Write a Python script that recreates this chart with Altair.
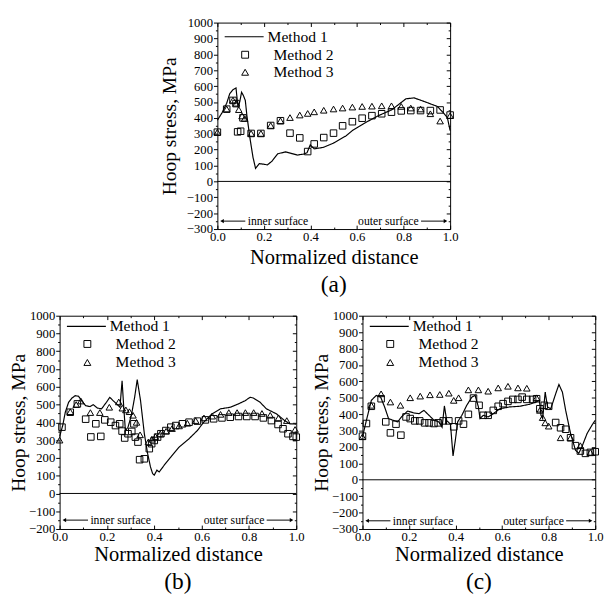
import altair as alt
import pandas as pd

FONT = "Liberation Serif"

# ---------------- Panel (a) ----------------
a_m1_x = [0.0, 0.02, 0.04, 0.053, 0.067, 0.08, 0.088, 0.096, 0.104, 0.112, 0.12, 0.127, 0.14, 0.153, 0.164,
          0.18, 0.2, 0.215, 0.235, 0.259, 0.294, 0.32, 0.343, 0.37, 0.385, 0.399, 0.416, 0.455, 0.497, 0.552,
          0.58, 0.636, 0.692, 0.748, 0.775, 0.81, 0.845, 0.887, 0.945, 0.971, 0.988, 1.0]
a_m1_y = [385, 432, 492, 552, 578, 588, 475, 500, 562, 540, 510, 412, 272, 152, 82,
          112, 108, 104, 128, 174, 186, 175, 166, 172, 180, 230, 205, 214, 240, 286,
          320, 370, 414, 450, 480, 520, 526, 504, 472, 432, 402, 320]
a_m2_x = [0.0, 0.04, 0.067, 0.08, 0.087, 0.10, 0.11, 0.145, 0.187, 0.229, 0.271, 0.312, 0.354, 0.388, 0.416,
          0.457, 0.499, 0.538, 0.58, 0.622, 0.664, 0.706, 0.748, 0.79, 0.831, 0.873, 0.915, 0.957, 1.0]
a_m2_y = [310, 455, 510, 490, 312, 316, 400, 302, 302, 352, 382, 304, 274, 188, 236,
          276, 304, 350, 376, 398, 414, 426, 436, 444, 446, 446, 446, 450, 418]
a_m3_x = [0.0, 0.04, 0.067, 0.081, 0.092, 0.106, 0.117, 0.145, 0.187, 0.229, 0.271, 0.312, 0.354, 0.388, 0.416,
          0.457, 0.499, 0.538, 0.58, 0.622, 0.664, 0.706, 0.748, 0.79, 0.831, 0.873, 0.915, 0.957, 1.0]
a_m3_y = [310, 456, 512, 492, 452, 412, 396, 302, 302, 352, 382, 402, 418, 428, 438,
          448, 456, 462, 468, 472, 474, 476, 476, 472, 462, 456, 426, 380, 414]

# ---------------- Panel (b) ----------------
b_m1_x = [0.0, 0.013, 0.024, 0.038, 0.052, 0.066, 0.08, 0.093, 0.11, 0.128, 0.142, 0.159, 0.177, 0.198, 0.212,
          0.226, 0.244, 0.255, 0.264, 0.271, 0.278, 0.289, 0.303, 0.317, 0.328, 0.342, 0.358, 0.372, 0.384, 0.393,
          0.4, 0.411, 0.421, 0.442, 0.47, 0.505, 0.547, 0.582, 0.609, 0.644, 0.679, 0.721, 0.756, 0.784, 0.805,
          0.819, 0.847, 0.874, 0.916, 0.951, 0.972, 1.0]
b_m1_y = [320, 382, 457, 513, 537, 550, 547, 522, 494, 489, 500, 481, 476, 513, 541,
          522, 500, 485, 634, 485, 354, 373, 438, 541, 640, 522, 336, 224, 149, 112,
          103, 131, 121, 159, 205, 261, 308, 354, 401, 448, 476, 485, 504, 522, 541,
          537, 513, 476, 448, 410, 392, 390]
b_m2_x = [0.01, 0.045, 0.075, 0.11, 0.132, 0.153, 0.174, 0.191, 0.216, 0.236, 0.254, 0.264, 0.275, 0.289, 0.305,
          0.314, 0.32, 0.331, 0.338, 0.358, 0.379, 0.389, 0.4, 0.414, 0.428, 0.449, 0.47, 0.491, 0.519, 0.547,
          0.582, 0.616, 0.651, 0.686, 0.721, 0.756, 0.791, 0.826, 0.861, 0.895, 0.923, 0.944, 0.965, 0.986, 1.0]
b_m2_y = [373, 457, 504, 418, 318, 392, 321, 414, 401, 382, 392, 351, 312, 336, 349,
          392, 317, 289, 190, 195, 252, 280, 298, 317, 336, 354, 373, 382, 392, 401,
          407, 414, 420, 425, 429, 433, 433, 433, 425, 410, 388, 364, 336, 321, 317]
b_m3_x = [0.0, 0.045, 0.07, 0.09, 0.13, 0.17, 0.21, 0.25, 0.265, 0.28, 0.295, 0.31, 0.325, 0.34, 0.375,
          0.39, 0.405, 0.425, 0.45, 0.475, 0.505, 0.54, 0.575, 0.61, 0.645, 0.68, 0.715, 0.75, 0.785, 0.82,
          0.855, 0.89, 0.925, 0.96, 0.995]
b_m3_y = [300, 460, 500, 520, 455, 455, 485, 515, 480, 470, 460, 440, 400, 330, 290,
          305, 320, 335, 350, 365, 380, 395, 410, 425, 435, 445, 455, 455, 455, 455,
          450, 440, 425, 410, 360]

# ---------------- Panel (c) ----------------
c_m1_x = [0.0, 0.017, 0.038, 0.059, 0.078, 0.095, 0.112, 0.13, 0.151, 0.17, 0.194, 0.222, 0.243, 0.264, 0.286,
          0.307, 0.328, 0.342, 0.352, 0.362, 0.378, 0.389, 0.399, 0.409, 0.427, 0.448, 0.47, 0.484, 0.498, 0.505,
          0.519, 0.54, 0.562, 0.59, 0.632, 0.675, 0.717, 0.745, 0.76, 0.767, 0.774, 0.785, 0.795, 0.809, 0.83,
          0.844, 0.859, 0.873, 0.894, 0.915, 0.929, 0.943, 0.965, 0.986, 1.0]
c_m1_y = [262, 363, 484, 514, 504, 444, 373, 363, 353, 387, 419, 407, 403, 423, 393,
          363, 353, 320, 450, 360, 340, 145, 242, 353, 393, 454, 504, 514, 444, 373,
          393, 383, 403, 433, 444, 448, 460, 474, 484, 393, 373, 534, 444, 433, 524,
          581, 534, 423, 282, 181, 161, 202, 282, 333, 363]
c_m2_x = [0.0, 0.017, 0.038, 0.08, 0.1, 0.12, 0.144, 0.165, 0.187, 0.205, 0.225, 0.246, 0.267, 0.286, 0.307,
          0.325, 0.347, 0.371, 0.392, 0.413, 0.434, 0.455, 0.477, 0.501, 0.519, 0.54, 0.562, 0.583, 0.604, 0.625,
          0.646, 0.668, 0.686, 0.706, 0.731, 0.748, 0.762, 0.781, 0.8, 0.83, 0.851, 0.873, 0.894, 0.915, 0.936,
          0.958, 0.979, 1.0]
c_m2_y = [266, 343, 448, 494, 353, 286, 339, 272, 383, 373, 359, 359, 347, 347, 343,
          347, 359, 359, 323, 359, 339, 399, 498, 454, 393, 393, 423, 448, 464, 478,
          490, 490, 504, 490, 490, 494, 433, 454, 448, 349, 317, 308, 256, 208, 175,
          161, 167, 171]
c_m3_x = [0.0, 0.038, 0.08, 0.12, 0.163, 0.205, 0.248, 0.29, 0.332, 0.371, 0.392, 0.413, 0.455, 0.498, 0.54,
          0.583, 0.625, 0.668, 0.706, 0.748, 0.762, 0.774, 0.785, 0.8, 0.851, 0.894, 0.936, 0.979]
c_m3_y = [262, 454, 524, 474, 454, 500, 510, 518, 520, 528, 484, 500, 548, 548, 540,
          560, 570, 560, 558, 500, 423, 379, 347, 327, 256, 256, 208, 167]

# annotation text / arrows (data units)
inner_arrow_x = [0.02, 0.12]
outer_arrow_x = [0.875, 0.98]
inner_text_x = 0.13
outer_text_x = 0.865
x_domain = [0.0, 1.0]
x_tick_values = [i / 10 for i in range(11)]

X_MAJOR = "round(datum.value*10) % 2 == 0"
Y_MAJOR = "datum.value % 100 == 0"


def tick_cond(test, big, small):
    return {"condition": {"test": test, "value": big}, "value": small}


def make_panel(m1x, m1y, m2x, m2y, m3x, m3y, ymin, ann_y, caption, W, H, leg, xtp, ytp, cap_off):
    y_domain = [ymin, 1000]
    y_tick_values = list(range(ymin, 1001, 50))
    xs = alt.Scale(domain=x_domain, nice=False, zero=False)
    ys = alt.Scale(domain=y_domain, nice=False, zero=False)

    df1 = pd.DataFrame({"x": m1x, "y": m1y, "method": "Method 1"})
    pts = pd.concat([
        pd.DataFrame({"x": m2x, "y": m2y, "method": "Method 2"}),
        pd.DataFrame({"x": m3x, "y": m3y, "method": "Method 3"}),
    ])

    x_main = alt.Axis(values=x_tick_values, orient="bottom",
                      labelExpr=f"{X_MAJOR} ? format(datum.value, '.1f') : ''",
                      ticks=False, domain=False, labelPadding=2, labelFlush=False,
                      title="Normalized distance", titlePadding=xtp, titleFontSize=21)
    y_main = alt.Axis(values=y_tick_values, orient="left",
                      labelExpr=f"{Y_MAJOR} ? format(datum.value, 'd') : ''",
                      tickSize=tick_cond(Y_MAJOR, 4, 2), domain=False,
                      labelPadding=1, labelFlush=False,
                      title="Hoop stress, MPa", titlePadding=ytp, titleFontSize=20)

    line = alt.Chart(df1).mark_line(color="black", strokeWidth=1.2).encode(
        x=alt.X("x:Q", scale=xs, axis=x_main),
        y=alt.Y("y:Q", scale=ys, axis=y_main),
        strokeDash=alt.StrokeDash(
            "method:N",
            scale=alt.Scale(domain=["Method 1"], range=[[1, 0]]),
            legend=alt.Legend(orient="none", legendX=leg["lx"], legendY=leg["ly"], title=None,
                              symbolType="stroke", symbolSize=1600, symbolStrokeWidth=1.2,
                              symbolStrokeColor="black", labelOffset=3, padding=0,
                              labelFont=FONT, labelFontSize=16, labelColor="black"),
        ),
    )
    points = alt.Chart(pts).mark_point(filled=False, color="black", size=45, strokeWidth=1, opacity=1).encode(
        x=alt.X("x:Q", scale=xs, axis=None),
        y=alt.Y("y:Q", scale=ys, axis=None),
        shape=alt.Shape(
            "method:N",
            scale=alt.Scale(domain=["Method 2", "Method 3"], range=["square", "triangle-up"]),
            legend=alt.Legend(orient="none", legendX=leg["sx"], legendY=leg["sy"], title=None,
                              symbolSize=50, symbolStrokeColor="black", symbolFillColor="transparent",
                              symbolStrokeWidth=1, labelOffset=21, rowPadding=leg["rp"], padding=0,
                              labelFont=FONT, labelFontSize=16, labelColor="black"),
        ),
    )
    zero = alt.Chart(pd.DataFrame({"v": [0]})).mark_rule(color="black", strokeWidth=1).encode(
        y=alt.Y("v:Q", scale=ys, axis=None)
    )
    arrows = pd.DataFrame({"x": [inner_arrow_x[0], outer_arrow_x[0]],
                           "x2": [inner_arrow_x[1], outer_arrow_x[1]],
                           "y": [ann_y, ann_y]})
    arrow_rules = alt.Chart(arrows).mark_rule(color="black", strokeWidth=1).encode(
        x=alt.X("x:Q", scale=xs, axis=None), x2="x2:Q", y=alt.Y("y:Q", scale=ys, axis=None)
    )
    head_l = alt.Chart(pd.DataFrame({"x": [inner_arrow_x[0]], "y": [ann_y]})).mark_point(
        shape="triangle-left", filled=True, color="black", size=18, opacity=1).encode(
        x=alt.X("x:Q", scale=xs, axis=None), y=alt.Y("y:Q", scale=ys, axis=None))
    head_r = alt.Chart(pd.DataFrame({"x": [outer_arrow_x[1]], "y": [ann_y]})).mark_point(
        shape="triangle-right", filled=True, color="black", size=18, opacity=1).encode(
        x=alt.X("x:Q", scale=xs, axis=None), y=alt.Y("y:Q", scale=ys, axis=None))
    t_in = alt.Chart(pd.DataFrame({"x": [inner_text_x], "y": [ann_y], "t": ["inner surface"]})).mark_text(
        align="left", baseline="middle", font=FONT, fontSize=12, color="black").encode(
        x=alt.X("x:Q", scale=xs, axis=None), y=alt.Y("y:Q", scale=ys, axis=None), text="t:N")
    t_out = alt.Chart(pd.DataFrame({"x": [outer_text_x], "y": [ann_y], "t": ["outer surface"]})).mark_text(
        align="right", baseline="middle", font=FONT, fontSize=12, color="black").encode(
        x=alt.X("x:Q", scale=xs, axis=None), y=alt.Y("y:Q", scale=ys, axis=None), text="t:N")

    # mirror / inward tick axes
    corners = pd.DataFrame({"x": x_domain, "y": y_domain})
    ax_bottom_in = alt.Axis(orient="top", offset=-H, values=x_tick_values, labels=False, title=None,
                            domain=False, tickSize=tick_cond(X_MAJOR, 4, 2))
    ax_top_in = alt.Axis(orient="bottom", offset=-H, values=x_tick_values, labels=False, title=None,
                         domain=False, tickSize=tick_cond(X_MAJOR, 4, 2))
    ax_right_in = alt.Axis(orient="left", offset=-W, values=y_tick_values, labels=False, title=None,
                           domain=False, tickSize=tick_cond(Y_MAJOR, 4, 2))
    carrier1 = alt.Chart(corners).mark_point(opacity=0).encode(
        x=alt.X("x:Q", scale=xs, axis=ax_bottom_in), y=alt.Y("y:Q", scale=ys, axis=ax_right_in))
    carrier2 = alt.Chart(corners).mark_point(opacity=0).encode(
        x=alt.X("x:Q", scale=xs, axis=ax_top_in), y=alt.Y("y:Q", scale=ys, axis=None))

    return alt.layer(
        zero, arrow_rules, head_l, head_r, t_in, t_out, line, points, carrier1, carrier2
    ).resolve_axis(x="independent", y="independent").properties(
        width=W, height=H,
        title=alt.TitleParams(caption, orient="bottom", anchor="middle", frame="group",
                              font=FONT, fontSize=24, fontWeight="normal", color="black", offset=cap_off),
    )


leg_a = {"lx": 6.5, "ly": -6.5, "sx": 20.5, "sy": 25, "rp": 2}
leg_bc = {"lx": 6.5, "ly": -10, "sx": 20.5, "sy": 21, "rp": 3}

pa = make_panel(a_m1_x, a_m1_y, a_m2_x, a_m2_y, a_m3_x, a_m3_y, -300, -250, "(a)", 239, 212, leg_a, 3, 7, 7)
pb = make_panel(b_m1_x, b_m1_y, b_m2_x, b_m2_y, b_m3_x, b_m3_y, -200, -150, "(b)", 243, 219, leg_bc, 0, 0, 7)
pc = make_panel(c_m1_x, c_m1_y, c_m2_x, c_m2_y, c_m3_x, c_m3_y, -300, -250, "(c)", 239, 219, leg_bc, 0, 0, 7)

# invisible spacer that pushes panel (a) to the middle of the figure
spacer = alt.Chart(pd.DataFrame({"x": [0]})).mark_point(opacity=0).encode(
    x=alt.X("x:Q", axis=None), y=alt.Y("x:Q", axis=None)
).properties(width=102, height=1, view=alt.ViewBackground(strokeOpacity=0, stroke="white"))

top = alt.hconcat(spacer, pa, spacing=0).resolve_scale(shape="independent", strokeDash="independent") \
    .resolve_legend(shape="independent", strokeDash="independent")
bottom = alt.hconcat(pb, pc, spacing=6).resolve_scale(shape="independent", strokeDash="independent") \
    .resolve_legend(shape="independent", strokeDash="independent")

chart = alt.vconcat(top, bottom, spacing=7).resolve_scale(
    shape="independent", strokeDash="independent").resolve_legend(
    shape="independent", strokeDash="independent").properties(
    padding=0, background="white").configure_view(
    stroke="black", strokeWidth=1).configure_axis(
    labelFont=FONT, titleFont=FONT, labelFontSize=13, titleFontWeight="normal",
    labelColor="black", titleColor="black", tickColor="black", grid=False).configure_legend(
    labelFont=FONT, labelFontSize=16, labelColor="black")

chart.save("out.html", embed_options={"renderer": "svg", "actions": False})
